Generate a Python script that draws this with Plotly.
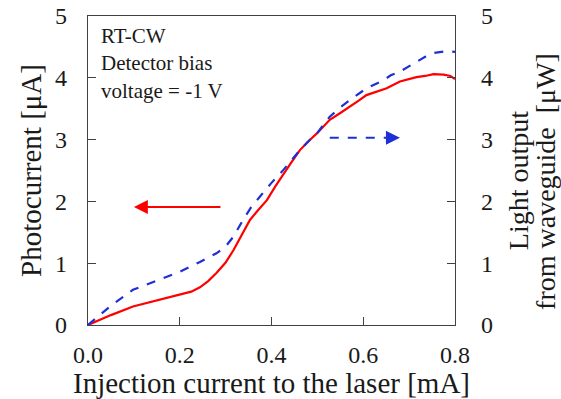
import plotly.graph_objects as go

# Injection current [mA]
x_red = [0.0, 0.05, 0.098, 0.15, 0.2, 0.225, 0.244, 0.262, 0.28, 0.30, 0.317, 0.335, 0.353,
         0.372, 0.39, 0.408, 0.426, 0.444, 0.462, 0.48, 0.499, 0.527, 0.55, 0.571, 0.59,
         0.607, 0.63, 0.651, 0.68, 0.716, 0.735, 0.753, 0.775, 0.79, 0.8]
photocurrent = [0.0, 0.16, 0.30, 0.40, 0.49, 0.54, 0.61, 0.71, 0.84, 1.01, 1.21, 1.45, 1.70,
                1.87, 2.02, 2.24, 2.45, 2.64, 2.83, 2.97, 3.10, 3.32, 3.43, 3.53, 3.63,
                3.72, 3.78, 3.83, 3.94, 4.01, 4.03, 4.06, 4.05, 4.03, 3.98]

x_blue = [0.0, 0.048, 0.098, 0.135, 0.2, 0.244, 0.28, 0.30, 0.317, 0.338, 0.355, 0.375,
          0.40, 0.426, 0.444, 0.462, 0.48, 0.499, 0.527, 0.55, 0.571, 0.607, 0.644, 0.66,
          0.68, 0.716, 0.735, 0.753, 0.78, 0.8]
light_output = [0.0, 0.30, 0.57, 0.68, 0.86, 1.02, 1.16, 1.27, 1.43, 1.70, 1.90, 2.08,
                2.30, 2.51, 2.67, 2.83, 2.97, 3.10, 3.37, 3.52, 3.64, 3.83, 3.96, 4.04,
                4.10, 4.26, 4.34, 4.40, 4.43, 4.42]

x_ticks = [0.0, 0.2, 0.4, 0.6, 0.8]
y_ticks = [0, 1, 2, 3, 4, 5]

right_title_lines = ["Light output", "from waveguide  [μW]"]

# arrows (data coordinates)
red_arrow_x = [0.292, 0.10]
red_arrow_y = [1.91, 1.91]
blue_arrow_x = [0.527, 0.665]
blue_arrow_y = [3.03, 3.03]

FONT = "Liberation Serif, Times New Roman, serif"
RED = "#ff0000"
BLUE = "#1f2fd6"
AX = "#404040"
TXT = "#1a1a1a"

fig = go.Figure()
fig.add_trace(go.Scatter(x=x_red, y=photocurrent, mode="lines",
                         line=dict(color=RED, width=2.2), showlegend=False))
fig.add_trace(go.Scatter(x=x_blue, y=light_output, mode="lines", yaxis="y2",
                         line=dict(color=BLUE, width=2.2, dash="dash"),
                         showlegend=False))

# red arrow (pointing left)
fig.add_annotation(x=red_arrow_x[1], y=red_arrow_y[1], ax=red_arrow_x[0], ay=red_arrow_y[0],
                   xref="x", yref="y", axref="x", ayref="y", text="", showarrow=True,
                   arrowhead=2, arrowsize=1.4, arrowwidth=2, arrowcolor=RED)
# blue dashed arrow (pointing right)
fig.add_trace(go.Scatter(x=blue_arrow_x, y=blue_arrow_y, mode="lines",
                         line=dict(color=BLUE, width=2, dash="dash"), showlegend=False))
fig.add_annotation(x=blue_arrow_x[1] + 0.015, y=blue_arrow_y[1], ax=blue_arrow_x[1] - 0.005,
                   ay=blue_arrow_y[1], xref="x", yref="y", axref="x", ayref="y", text="",
                   showarrow=True, arrowhead=2, arrowsize=1.4, arrowwidth=2, arrowcolor=BLUE)

fig.add_annotation(x=0.03, y=0.98, xref="paper", yref="paper", xanchor="left", yanchor="top",
                   text="RT-CW<br>Detector bias<br>voltage = -1 V", showarrow=False, align="left",
                   font=dict(family=FONT, size=21, color=TXT))

# right axis title (two rotated lines)
for txt, xp in zip(right_title_lines, [1.172, 1.245]):
    fig.add_annotation(x=xp, y=0.466, xref="paper", yref="paper", xanchor="center",
                       yanchor="middle", text=txt, textangle=-90, showarrow=False,
                       font=dict(family=FONT, size=28, color=TXT))

fig.update_layout(
    width=561, height=399,
    margin=dict(l=88, r=106, t=16, b=74, autoexpand=False),
    paper_bgcolor="white", plot_bgcolor="white",
    font=dict(family=FONT, color=TXT),
    xaxis=dict(range=[0, 0.8], tickvals=x_ticks, tickformat=".1f", ticks="inside", ticklen=8,
               tickcolor=AX, showline=True, linecolor=AX, linewidth=1.2, mirror=True,
               showgrid=False, zeroline=False, tickfont=dict(size=24, family=FONT, color=TXT),
               ticklabelstandoff=8, automargin=False,
               title=dict(text="Injection current to the laser [mA]",
                          font=dict(size=29, family=FONT, color=TXT), standoff=0)),
    yaxis=dict(range=[0, 5], tickvals=y_ticks, ticks="inside", ticklen=8, tickcolor=AX,
               showline=True, linecolor=AX, linewidth=1.2, showgrid=False, zeroline=False,
               tickfont=dict(size=24, family=FONT, color=TXT), ticklabelstandoff=15,
               automargin=False,
               title=dict(text="Photocurrent [μA]", font=dict(size=29, family=FONT, color=TXT),
                          standoff=4)),
    yaxis2=dict(range=[0, 5], tickvals=y_ticks, ticks="inside", ticklen=8, tickcolor=AX,
                overlaying="y", side="right", showline=True, linecolor=AX, linewidth=1.2,
                showgrid=False, zeroline=False, tickfont=dict(size=24, family=FONT, color=TXT),
                ticklabelstandoff=20, automargin=False),
)

fig.write_html("out.html")
